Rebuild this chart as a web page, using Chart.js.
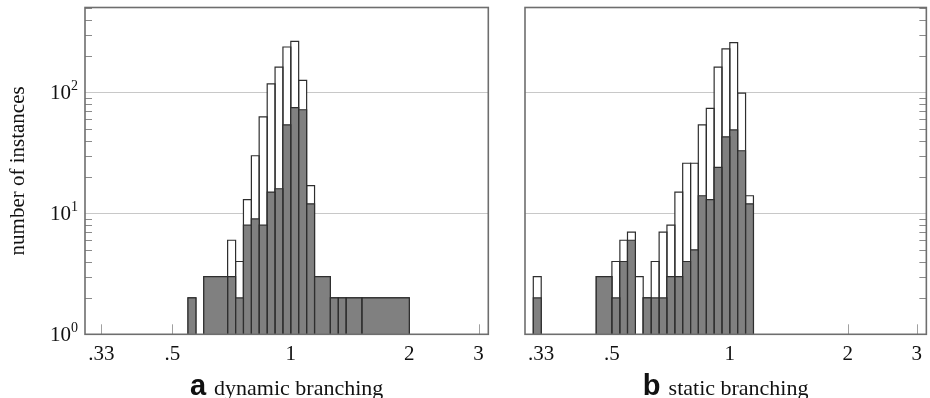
<!doctype html>
<html lang="en">
<head>
	<meta charset="utf-8">
	<title>Branching histograms</title>
	<style>
		body { margin: 0; background: #fff; }
		canvas { position: absolute; top: 0; }
		#chartA { left: 0; }
		#chartB { left: 500px; }
	</style>
</head>

<body>
	<script src="https://cdn.jsdelivr.net/npm/chart.js@4.4.1/dist/chart.umd.min.js"></script>

	<canvas id="chartA" width="500" height="398"></canvas>
	<canvas id="chartB" width="430" height="398"></canvas>

	<script>
		// x ticks (ratio, log scale)
		var tickValues = [0.33, 0.5, 1, 2, 3];
		var tickLabels = [".33", ".5", "1", "2", "3"];
		var yMajor = [1, 10, 100];
		var yMinor = [2, 3, 4, 5, 6, 7, 8, 9, 20, 30, 40, 50, 60, 70, 80, 90, 200, 300, 400, 500];

		// a: dynamic branching, bins
		var binLoA = [0.548, 0.601, 0.691, 0.724, 0.758, 0.794, 0.831, 0.871, 0.912, 0.955, 1.000, 1.047, 1.097, 1.149, 1.260, 1.320, 1.382, 1.516];
		var binHiA = [0.574, 0.691, 0.724, 0.758, 0.794, 0.831, 0.871, 0.912, 0.955, 1.000, 1.047, 1.097, 1.149, 1.260, 1.320, 1.382, 1.516, 2.000];
		var totalA = [2, 3, 6, 4, 13, 30, 63, 118, 162, 238, 265, 126, 17, 3, 2, 2, 2, 2];
		var grayA  = [2, 3, 3, 2, 8, 9, 8, 15, 16, 54, 75, 72, 12, 3, 2, 2, 2, 2];

		// b: static branching
		var binLoB = [0.315, 0.456, 0.500, 0.524, 0.548, 0.574, 0.601, 0.630, 0.660, 0.691, 0.724, 0.758, 0.794, 0.831, 0.871, 0.912, 0.955, 1.000, 1.047, 1.097];
		var binHiB = [0.330, 0.500, 0.524, 0.548, 0.574, 0.601, 0.630, 0.660, 0.691, 0.724, 0.758, 0.794, 0.831, 0.871, 0.912, 0.955, 1.000, 1.047, 1.097, 1.149];
		var totalB = [3, 3, 4, 6, 7, 3, 2, 4, 7, 8, 15, 26, 26, 54, 74, 162, 230, 259, 99, 14];
		var grayB  = [2, 3, 2, 4, 6, 0, 2, 2, 2, 3, 3, 4, 5, 14, 13, 24, 43, 49, 33, 12];

		function histPoints(lo, hi, counts) {
			var pts = [];
			for (var i = 0; i < counts.length; i++) {
				if (counts[i] <= 0) continue;
				pts.push({x: lo[i], y: 1}, {x: lo[i], y: counts[i]}, {x: hi[i], y: counts[i]}, {x: hi[i], y: 1});
			}
			return pts;
		}

		// no outline along the baseline between bars
		function baselineSeg(ctx) {
			if (ctx.p0.parsed.y === 1 && ctx.p1.parsed.y === 1) return 'rgba(0,0,0,0)';
			return undefined;
		}

		function drawTicksAndFrame(chart, tickSide) {
			var ctx = chart.ctx, area = chart.chartArea;
			var xs = chart.scales.x, ys = chart.scales.y;
			ctx.save();
			ctx.lineWidth = 1;
			ctx.strokeStyle = "#a0a0a0";
			tickValues.forEach(function(v) {
				var px = Math.round(xs.getPixelForValue(v)) + 0.5;
				ctx.beginPath();
				ctx.moveTo(px, area.bottom);
				ctx.lineTo(px, area.bottom - 10);
				ctx.stroke();
			});
			ctx.strokeStyle = "#8a8a8a";
			yMinor.forEach(function(v) {
				var py = Math.round(ys.getPixelForValue(v)) + 0.5;
				ctx.beginPath();
				if (tickSide == "left") {
					ctx.moveTo(area.left, py); ctx.lineTo(area.left + 7, py);
				} else {
					ctx.moveTo(area.right, py); ctx.lineTo(area.right - 7, py);
				}
				ctx.stroke();
			});
			ctx.restore();
		}

		var innerTicks = {
			id: 'innerTicks',
			beforeDatasetsDraw: function(chart, args, opts) {
				drawTicksAndFrame(chart, opts.side);
			},
			afterDatasetsDraw: function(chart) {
				var ctx = chart.ctx, a = chart.chartArea;
				ctx.save();
				ctx.strokeStyle = "#6e6e6e";
				ctx.lineWidth = 1.6;
				ctx.strokeRect(a.left, a.top, a.right - a.left, a.bottom - a.top);
				ctx.restore();
			},
			afterDraw: function(chart, args, opts) {
				var ctx = chart.ctx, a = chart.chartArea;
				ctx.save();
				ctx.fillStyle = "#111";
				// caption
				ctx.textBaseline = "alphabetic";
				ctx.font = "bold 29px 'Liberation Sans'";
				var w1 = ctx.measureText(opts.letter).width;
				ctx.font = "22px 'Liberation Serif'";
				var w2 = ctx.measureText(opts.caption).width;
				var gap = 8;
				var x0 = (a.left + a.right) / 2 - (w1 + gap + w2) / 2;
				ctx.font = "bold 29px 'Liberation Sans'";
				ctx.fillText(opts.letter, x0, 395);
				ctx.font = "22px 'Liberation Serif'";
				ctx.fillText(opts.caption, x0 + w1 + gap, 395);
				// y labels with superscript
				if (opts.yLabels) {
					var ys = chart.scales.y;
					yMajor.forEach(function(v, i) {
						var py = ys.getPixelForValue(v);
						ctx.font = "14px 'Liberation Serif'";
						ctx.textAlign = "right";
						ctx.textBaseline = "middle";
						var exp = String(i);
						ctx.fillText(exp, a.left - 7, py - 6);
						var we = ctx.measureText(exp).width;
						ctx.font = "21px 'Liberation Serif'";
						ctx.fillText("10", a.left - 7 - we, py + 1);
					});
					ctx.save();
					ctx.translate(18, (a.top + a.bottom) / 2);
					ctx.rotate(-Math.PI / 2);
					ctx.textAlign = "center";
					ctx.font = "21px 'Liberation Serif'";
					ctx.fillText("number of instances", 0, 0);
					ctx.restore();
				}
				ctx.restore();
			}
		};

		function makeChart(id, lo, hi, total, gray, opts) {
			return new Chart(document.getElementById(id), {
				type: 'line',
				data: {
					datasets: [{
						label: 'subset',
						data: histPoints(lo, hi, gray),
						backgroundColor: "#808080",
						borderColor: "#2e2e2e",
						borderWidth: 1.2,
						pointRadius: 0,
						tension: 0,
						fill: 'start',
						segment: { borderColor: baselineSeg },
						order: 0
					},
					{
						label: 'all',
						data: histPoints(lo, hi, total),
						backgroundColor: "#ffffff",
						borderColor: "#2e2e2e",
						borderWidth: 1.2,
						pointRadius: 0,
						tension: 0,
						fill: 'start',
						segment: { borderColor: baselineSeg },
						order: 1
					}]
				},
				options: {
					responsive: false,
					animation: false,
					layout: { padding: opts.padding },
					plugins: {
						legend: { display: false },
						tooltip: { enabled: false },
						innerTicks: opts
					},
					scales: {
						x: {
							type: 'logarithmic',
							min: 0.315,
							max: 3.175,
							grid: { display: false, drawTicks: false },
							border: { display: false },
							afterBuildTicks: function(axis) {
								axis.ticks = tickValues.map(function(v) { return {value: v}; });
							},
							afterFit: function(axis) { axis.height = 63.7; },
							ticks: {
								autoSkip: false,
								maxRotation: 0,
								padding: 8,
								color: "#111",
								font: { family: "'Liberation Serif'", size: 21 },
								callback: function(value, index) { return tickLabels[index]; }
							}
						},
						y: {
							type: 'logarithmic',
							min: 1,
							max: 505,
							border: { display: false },
							afterBuildTicks: function(axis) {
								axis.ticks = yMajor.map(function(v) { return {value: v}; });
							},
							afterFit: function(axis) { axis.width = 0; },
							grid: { drawTicks: false, color: "#c8c8c8", lineWidth: 1 },
							ticks: { display: false }
						}
					}
				},
				plugins: [innerTicks]
			});
		}

		var chartA = makeChart('chartA', binLoA, binHiA, totalA, grayA, {
			side: "left", letter: "a", caption: "dynamic branching", yLabels: true,
			padding: { left: 85, right: 11.7, top: 7.5, bottom: 0 }
		});
		var chartB = makeChart('chartB', binLoB, binHiB, totalB, grayB, {
			side: "right", letter: "b", caption: "static branching", yLabels: false,
			padding: { left: 25, right: 1.7, top: 7.5, bottom: 0 }
		});
	</script>
</body>
</html>
